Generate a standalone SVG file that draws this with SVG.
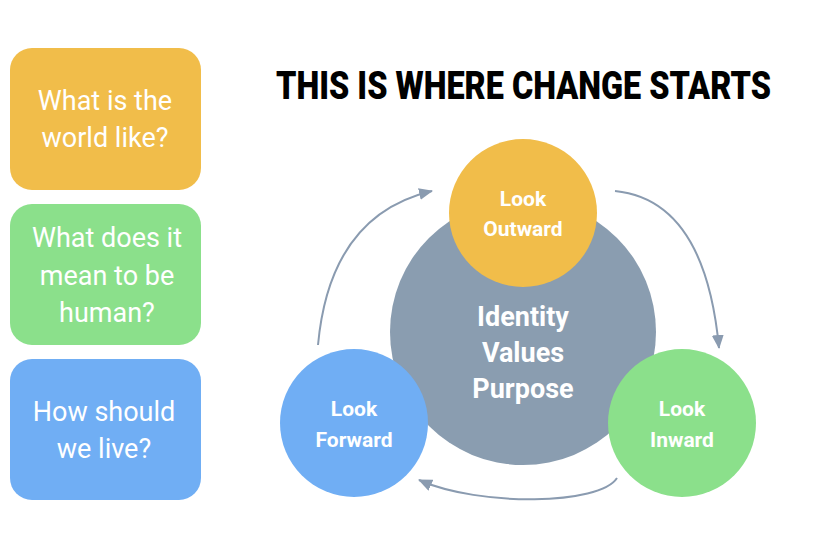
<svg xmlns="http://www.w3.org/2000/svg" width="826" height="538" viewBox="0 0 826 538">
<defs>
<style>
.q{font-family:Roboto,"Liberation Sans",sans-serif;font-size:27px;fill:#fff;text-anchor:middle}
.c{font-family:Roboto,"Liberation Sans",sans-serif;font-weight:bold;font-size:21px;fill:#fff;text-anchor:middle}
.big{font-family:Roboto,"Liberation Sans",sans-serif;font-weight:bold;font-size:27px;fill:#fff;text-anchor:middle}
.t{font-family:Roboto,"Liberation Sans",sans-serif;font-weight:900;font-size:39px;fill:#000}
.arr{fill:none;stroke:#8a9bb0;stroke-width:2;marker-end:url(#ah)}
</style>
<marker id="ah" markerUnits="userSpaceOnUse" markerWidth="14" markerHeight="12" refX="13" refY="6" orient="auto">
<path d="M0,0 L14,6 L0,12 Z" fill="#8a9bb0"/>
</marker>
</defs>
<rect width="826" height="538" fill="#fff"/>
<g id="title"><text class="t" x="276" y="99" textLength="495" lengthAdjust="spacingAndGlyphs">THIS IS WHERE CHANGE STARTS</text></g>
<g id="box1"><rect x="10" y="48" width="191" height="142" rx="22" fill="#f1bd4a"/>
<text class="q" x="105" y="110">What is the</text><text class="q" x="105" y="147">world like?</text></g>
<g id="box2"><rect x="10" y="204" width="191" height="141" rx="22" fill="#8be08b"/>
<text class="q" x="107" y="247">What does it</text><text class="q" x="107" y="285">mean to be</text><text class="q" x="107" y="322">human?</text></g>
<g id="box3"><rect x="10" y="359" width="191" height="141" rx="22" fill="#70aef4"/>
<text class="q" x="104" y="421">How should</text><text class="q" x="104" y="458">we live?</text></g>
<g id="connectors">
<path class="arr" d="M318,345 Q330,215 432,191"/>
<path class="arr" d="M615,191 Q705,200 719,348"/>
<path class="arr" d="M617,478 C600,505 480,507 419,480"/>
</g>
<g id="center"><circle cx="523" cy="332" r="133" fill="#8a9db0"/>
<text class="big" x="523" y="326">Identity</text><text class="big" x="523" y="362">Values</text><text class="big" x="523" y="398">Purpose</text></g>
<g id="outward"><circle cx="523" cy="213" r="74" fill="#f1bd4a"/>
<text class="c" x="523" y="206">Look</text><text class="c" x="523" y="236">Outward</text></g>
<g id="forward"><circle cx="354" cy="423" r="74" fill="#70aef4"/>
<text class="c" x="354" y="416">Look</text><text class="c" x="354" y="447">Forward</text></g>
<g id="inward"><circle cx="682" cy="423" r="74" fill="#8be08b"/>
<text class="c" x="682" y="416">Look</text><text class="c" x="682" y="447">Inward</text></g>
</svg>
